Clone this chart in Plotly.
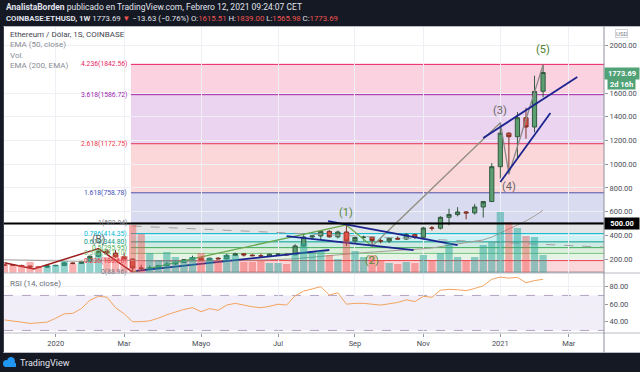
import plotly.graph_objects as go

W, H = 640, 372

# ---------------- data ----------------
weeks = ["2019-11-25", "2019-12-02", "2019-12-09", "2019-12-16", "2019-12-23", "2019-12-30",
         "2020-01-06", "2020-01-13", "2020-01-20", "2020-01-27", "2020-02-03", "2020-02-10",
         "2020-02-17", "2020-02-24", "2020-03-02", "2020-03-09", "2020-03-16", "2020-03-23",
         "2020-03-30", "2020-04-06", "2020-04-13", "2020-04-20", "2020-04-27", "2020-05-04",
         "2020-05-11", "2020-05-18", "2020-05-25", "2020-06-01", "2020-06-08", "2020-06-15",
         "2020-06-22", "2020-06-29", "2020-07-06", "2020-07-13", "2020-07-20", "2020-07-27",
         "2020-08-03", "2020-08-10", "2020-08-17", "2020-08-24", "2020-08-31", "2020-09-07",
         "2020-09-14", "2020-09-21", "2020-09-28", "2020-10-05", "2020-10-12", "2020-10-19",
         "2020-10-26", "2020-11-02", "2020-11-09", "2020-11-16", "2020-11-23", "2020-11-30",
         "2020-12-07", "2020-12-14", "2020-12-21", "2020-12-28", "2021-01-04", "2021-01-11",
         "2021-01-18", "2021-01-25", "2021-02-01", "2021-02-08"]
opens = [151, 151, 146, 141, 132, 131, 143, 146, 167, 162, 180, 223, 267, 250, 218, 200, 124, 122,
         125, 143, 158, 171, 197, 210, 187, 207, 201, 231, 244, 233, 228, 225, 241, 241, 235, 310,
         386, 395, 433, 387, 428, 352, 381, 385, 355, 352, 375, 368, 406, 383, 462, 460, 552, 575,
         597, 589, 639, 685, 979, 1262, 1232, 1392, 1314, 1615.51]
highs = [157, 152, 151, 145, 135, 145, 150, 175, 172, 185, 230, 288, 285, 275, 254, 202, 152, 146,
         150, 175, 187, 199, 228, 216, 211, 216, 244, 253, 250, 240, 245, 245, 249, 245, 325, 415,
         400, 445, 444, 440, 488, 383, 397, 391, 372, 378, 392, 420, 412, 472, 478, 560, 624, 637,
         605, 665, 660, 1010, 1350, 1270, 1440, 1476, 1747, 1839.00]
lows = [142, 143, 140, 116, 124, 126, 139, 142, 155, 158, 177, 215, 238, 213, 199, 90, 104, 122,
        125, 140, 149, 166, 187, 180, 180, 199, 197, 225, 221, 223, 219, 222, 237, 228, 235, 305,
        365, 369, 380, 373, 310, 330, 355, 308, 333, 335, 360, 360, 368, 375, 440, 450, 485, 560,
        535, 575, 550, 680, 880, 915, 1045, 1215, 1270, 1565.98]
closes = [148, 146, 141, 132, 131, 143, 146, 167, 162, 180, 223, 267, 250, 218, 200, 124, 122, 125,
          144, 158, 171, 195, 211, 187, 207, 201, 231, 244, 234, 228, 225, 241, 241, 235, 310, 386,
          395, 433, 387, 428, 352, 381, 385, 355, 352, 375, 368, 406, 383, 462, 460, 552, 575, 597,
          589, 639, 685, 979, 1262, 1232, 1392, 1314, 1614, 1773.69]
volumes_m = [0.9, 0.8, 0.8, 1.1, 0.7, 0.7, 0.8, 1.2, 0.9, 1.0, 1.5, 2.0, 1.6, 1.8, 1.7, 4.8, 3.9, 2.0,
             1.3, 2.1, 1.6, 1.3, 1.6, 2.0, 1.5, 1.3, 1.8, 1.8, 1.1, 1.1, 1.2, 1.0, 1.0, 0.9, 1.9, 3.0,
             2.0, 2.2, 1.8, 1.4, 4.0, 2.2, 1.6, 1.8, 1.2, 1.0, 0.9, 1.1, 1.0, 1.8, 1.3, 2.0, 3.0, 1.6,
             1.3, 1.6, 2.8, 3.1, 6.1, 5.1, 4.5, 3.7, 3.6, 1.8]
ema50 = [193, 191, 189, 187, 185, 183, 182, 181, 180.5, 180.5, 182, 185.5, 188, 189, 189.6, 187,
         184.5, 182, 180.7, 179.8, 179.5, 180, 181, 181.5, 182.5, 183, 185, 187, 189, 190.7, 192,
         194, 196, 197, 202, 209, 216, 225, 231, 239, 243, 249, 254, 258, 262, 266, 270, 275, 280,
         287, 293, 304, 314, 325, 336, 348, 361, 385, 419, 451, 488, 521, 563, 611]
rsi14 = [42, 41, 39.5, 38, 38.5, 39.5, 44, 49, 49.5, 55, 64.5, 69, 68, 56, 49, 40, 40, 41, 44, 48,
         51, 54, 56, 51.5, 55, 53, 59, 61, 59, 57, 56, 57.5, 60, 59, 69.5, 75, 77.5, 80, 70.5, 73,
         60, 61, 61, 60, 59, 60.5, 62, 65, 63, 69, 68, 76, 77, 76.5, 75.5, 78, 81, 88.5, 91, 89.8,
         90.7, 84.5, 87, 88.5]

fib_ratios = [0, 0.236, 0.382, 0.5, 0.618, 0.786, 1, 1.618, 2.618, 3.618, 4.236]
fib_prices = [88.96, 186.66, 247.10, 295.95, 344.80, 414.35, 502.94, 758.78, 1172.75, 1586.72, 1842.56]
fib_colors = ["#787b86", "#f23645", "#81c784", "#4caf50", "#089981", "#00bcd4", "#787b86",
              "#3f51b5", "#f23645", "#9c27b0", "#e91e63"]
fib_start = "2020-03-07 14:00"

wave_dates = ["2020-03-09", "2020-08-31", "2020-09-21", "2021-01-04", "2021-01-11", "2021-02-08"]
wave_prices = [90, 488, 308, 1350, 917, 1839]
wave_labels = ["", "(1)", "(2)", "(3)", "(4)", "(5)"]
abc_dates = ["2019-11-25", "2019-12-19", "2020-02-10", "2020-03-09"]
abc_prices = [168, 116, 288, 90]

trend_lines = [
    (["2020-12-21", "2021-03-08"], [1221, 1736]),
    (["2021-01-04", "2021-02-14"], [850, 1432]),
    (["2020-08-16", "2020-11-30"], [520, 318]),
    (["2020-07-13", "2020-10-25"], [394, 275]),
    (["2020-03-12", "2020-08-17"], [99, 276]),
]
dashed_dates = ["2020-03-09", "2021-03-29"]
dashed_prices = [478, 301]

price_ticks = [200, 400, 600, 800, 1000, 1200, 1400, 1600, 2000]
rsi_ticks = [40, 60, 80]
time_tick_dates = ["2020-01-06", "2020-03-02", "2020-05-04", "2020-07-06", "2020-09-07",
                   "2020-11-02", "2021-01-04", "2021-03-01"]
time_tick_text = ["2020", "Mar", "Mayo", "Jul", "Sep", "Nov", "2021", "Mar"]
last_price = 1773.69
hline_price = 500

# ---------------- helpers ----------------
def px(x):
    return x / W

def py(y):
    return 1 - y / H

FONT = "Roboto"
GREEN_UP = "#5b9e72"
RED_DN = "#d5533f"
GRID = "#eef0f5"
X_RANGE = ["2019-11-24 16:00", "2021-03-29 21:00"]
X_DOM = [px(4), px(604)]

def rgba(hexc, a):
    h = hexc.lstrip("#")
    return "rgba(%d,%d,%d,%.2f)" % (int(h[0:2], 16), int(h[2:4], 16), int(h[4:6], 16), a)

fig = go.Figure()

# volume
vol_colors = [rgba("#26a69a", 0.5) if c >= o else rgba("#ef5350", 0.45) for o, c in zip(opens, closes)]
fig.add_trace(go.Bar(x=weeks, y=volumes_m, yaxis="y2", marker=dict(color=vol_colors, line_width=0),
                     showlegend=False, hoverinfo="skip"))
# EMA 50
fig.add_trace(go.Scatter(x=weeks, y=ema50, mode="lines", line=dict(color="#a59e96", width=1),
                         showlegend=False, hoverinfo="skip"))
# dashed trend line
fig.add_trace(go.Scatter(x=dashed_dates, y=dashed_prices, mode="lines",
                         line=dict(color="#a0a0a0", width=1, dash="dash"), showlegend=False))
# candles
fig.add_trace(go.Candlestick(x=weeks, open=opens, high=highs, low=lows, close=closes,
                             increasing=dict(fillcolor=GREEN_UP, line=dict(color="#33593f", width=1)),
                             decreasing=dict(fillcolor=RED_DN, line=dict(color="#7e2f24", width=1)),
                             showlegend=False, hoverinfo="skip"))
# ABC correction (maroon)
fig.add_trace(go.Scatter(x=abc_dates, y=abc_prices, mode="lines", line=dict(color="#9b1c1c", width=1.5),
                         showlegend=False))
# impulse waves
wave_cols = ["#6aa84f", "#6aa84f", "#8f8d7c", "#8a8a8a", "#8a8a8a"]
for i in range(5):
    fig.add_trace(go.Scatter(x=wave_dates[i:i + 2], y=wave_prices[i:i + 2], mode="lines",
                             line=dict(color=wave_cols[i], width=1.3), showlegend=False))
# navy trend lines
for tx, ty in trend_lines:
    fig.add_trace(go.Scatter(x=tx, y=ty, mode="lines", line=dict(color="#1c2490", width=1.8),
                             showlegend=False))
# RSI
fig.add_trace(go.Scatter(x=weeks, y=rsi14, xaxis="x2", yaxis="y3", mode="lines",
                         line=dict(color="#f2a35e", width=1), showlegend=False))

shapes = []
# header / footer / frame
shapes.append(dict(type="rect", xref="paper", yref="paper", x0=0, x1=1, y0=py(26.5), y1=1,
                   fillcolor="#151924", line_width=0, layer="below"))
shapes.append(dict(type="rect", xref="paper", yref="paper", x0=0, x1=1, y0=0, y1=py(353),
                   fillcolor="#151924", line_width=0, layer="below"))
shapes.append(dict(type="rect", xref="paper", yref="paper", x0=0, x1=px(3), y0=0, y1=1,
                   fillcolor="#151924", line_width=0, layer="below"))
# fib bands and lines
for i in range(len(fib_ratios)):
    if i > 0:
        shapes.append(dict(type="rect", xref="x", yref="y", x0=fib_start, x1="2021-09-01",
                           y0=fib_prices[i - 1], y1=fib_prices[i],
                           fillcolor=rgba(fib_colors[i], 0.2), line_width=0, layer="below"))
    shapes.append(dict(type="line", xref="x", yref="y", x0=fib_start, x1="2021-09-01",
                       y0=fib_prices[i], y1=fib_prices[i],
                       line=dict(color=fib_colors[i], width=1), layer="below"))
# 500 line
shapes.append(dict(type="line", xref="paper", yref="y", x0=X_DOM[0], x1=X_DOM[1],
                   y0=hline_price, y1=hline_price, line=dict(color="#000000", width=2)))
# RSI band
shapes.append(dict(type="rect", xref="paper", yref="y3", x0=X_DOM[0], x1=X_DOM[1], y0=30, y1=70,
                   fillcolor="rgba(126,87,194,0.10)", line_width=0, layer="below"))
for lv in (30, 70):
    shapes.append(dict(type="line", xref="paper", yref="y3", x0=X_DOM[0], x1=X_DOM[1], y0=lv, y1=lv,
                       line=dict(color="rgba(150,130,170,0.7)", width=1, dash="dash"), layer="below"))
# separators
for yy in (26.5, 273, 333, 352.5):
    shapes.append(dict(type="line", xref="paper", yref="paper", x0=px(3.5), x1=1, y0=py(yy), y1=py(yy),
                       line=dict(color="#b8bbc4", width=1)))
shapes.append(dict(type="line", xref="paper", yref="paper", x0=px(604), x1=px(604), y0=py(352.5), y1=py(26.5),
                   line=dict(color="#8e919a", width=1)))
shapes.append(dict(type="line", xref="paper", yref="paper", x0=px(3.5), x1=px(3.5), y0=py(352.5), y1=py(26.5),
                   line=dict(color="#3a3e4a", width=1)))
# TradingView logo (cloud)
shapes.append(dict(type="circle", xref="paper", yref="paper", x0=px(3), x1=px(10), y0=py(367), y1=py(360),
                   fillcolor="#2196f3", line_width=0))
shapes.append(dict(type="circle", xref="paper", yref="paper", x0=px(7), x1=px(15), y0=py(366), y1=py(357),
                   fillcolor="#2196f3", line_width=0))
shapes.append(dict(type="rect", xref="paper", yref="paper", x0=px(5), x1=px(16), y0=py(367), y1=py(363),
                   fillcolor="#2196f3", line_width=0))

ann = []
RED_T = "#ef5350"
ann.append(dict(xref="paper", yref="paper", x=px(4), y=py(7.5), xanchor="left", yanchor="middle", showarrow=False,
                text="<b>AnalistaBorden</b> publicado en TradingView.com, Febrero 12, 2021 09:24:07 CET",
                font=dict(size=8.5, color="#e0e3eb")))
ann.append(dict(xref="paper", yref="paper", x=px(4), y=py(18.5), xanchor="left", yanchor="middle", showarrow=False,
                text=("<b>COINBASE:ETHUSD, 1W</b> 1773.69 <span style='color:%s'>▼</span> −13.63 (−0.76%%) "
                      "O:<span style='color:%s'>1615.51</span> H:<span style='color:%s'>1839.00</span> "
                      "L:<span style='color:%s'>1565.98</span> C:<span style='color:%s'>1773.69</span>")
                % (RED_T, RED_T, RED_T, RED_T, RED_T),
                font=dict(size=7.8, color="#e0e3eb")))
legend_lines = [("Ethereum / Dólar, 1S, COINBASE", "#434651"), ("EMA (50, close)", "#8a8d96"),
                ("Vol.", "#8a8d96"), ("EMA (200, EMA)", "#8a8d96")]
for i, (t, c) in enumerate(legend_lines):
    ann.append(dict(xref="paper", yref="paper", x=px(8), y=py(34.5 + 10.3 * i), xanchor="left", yanchor="middle",
                    showarrow=False, text=t, font=dict(size=8, color=c)))
ann.append(dict(xref="paper", yref="paper", x=px(8), y=py(283.5), xanchor="left", yanchor="middle",
                showarrow=False, text="RSI (14, close)", font=dict(size=8, color="#6a6d78")))
# fib labels
for r, p, c in zip(fib_ratios, fib_prices, fib_colors):
    ann.append(dict(xref="x", yref="y", x=fib_start, y=p, xanchor="right", yanchor="middle", xshift=-2,
                    showarrow=False, text="%g(%.2f)" % (r, p), font=dict(size=6.8, color=c)))
# wave labels
shifts = [0, 12, -14, 12, -12, 15]
lab_cols = ["", "#5b8a3a", "#5b8a3a", "#666666", "#666666", "#4e7d2c"]
for d, p, t, s, c in zip(wave_dates, wave_prices, wave_labels, shifts, lab_cols):
    if t:
        ann.append(dict(xref="x", yref="y", x=d, y=p, yshift=s, xanchor="center", yanchor="middle",
                        showarrow=False, text=t, font=dict(size=11, color=c)))
ann.append(dict(xref="x", yref="y", x=abc_dates[2], y=abc_prices[2], yshift=9, xanchor="center",
                yanchor="middle", showarrow=False, text="(B)", font=dict(size=10, color="#5c5c5c")))
# price axis boxes
ann.append(dict(xref="paper", yref="paper", x=px(621), y=py(33.5), xanchor="center", yanchor="middle",
                showarrow=False, text="USD", font=dict(size=6, color="#787b86"), bordercolor="#d1d4dc",
                borderwidth=1, borderpad=0, bgcolor="#ffffff"))
ann.append(dict(xref="paper", yref="y", x=px(621.5), y=last_price, yshift=-1, xanchor="center",
                yanchor="middle", showarrow=False,
                text="<b>%.2f</b>" % last_price, font=dict(size=7.5, color="#ffffff"),
                bgcolor="#52a277", width=32, height=9))
ann.append(dict(xref="paper", yref="paper", x=px(621), y=py(83.5), xanchor="center", yanchor="middle",
                showarrow=False, text="<b>2d 16h</b>",
                font=dict(size=7.5, color="#ffffff"), bgcolor="#52a277", width=25, height=8))
ann.append(dict(xref="paper", yref="y", x=px(621.5), y=hline_price, xanchor="center", yanchor="middle",
                showarrow=False, text="<b>%.2f</b>" % hline_price, font=dict(size=7.5, color="#ffffff"),
                bgcolor="#000000", width=32, height=9))
ann.append(dict(xref="paper", yref="paper", x=px(18), y=py(363), xanchor="left", yanchor="middle",
                showarrow=False, text="TradingView", font=dict(size=9, color="#e0e3eb")))

axis_font = dict(size=7.5, color="#4a4d57")
fig.update_layout(
    width=W, height=H, margin=dict(l=0, r=0, t=0, b=0),
    paper_bgcolor="#ffffff", plot_bgcolor="rgba(0,0,0,0)",
    font=dict(family=FONT), showlegend=False, bargap=0.15,
    xaxis=dict(domain=X_DOM, range=X_RANGE, anchor="y", type="date", tickvals=time_tick_dates,
               showticklabels=False, showgrid=True, gridcolor=GRID, zeroline=False,
               rangeslider=dict(visible=False), ticks=""),
    xaxis2=dict(domain=X_DOM, matches="x", anchor="y3", type="date", tickvals=time_tick_dates,
                ticktext=time_tick_text, showticklabels=True, showgrid=True, gridcolor=GRID,
                ticks="outside", ticklen=3, tickcolor="#9598a1", tickfont=axis_font, zeroline=False),
    yaxis=dict(domain=[py(273), py(27)], range=[81.9, 2157.8], side="right", anchor="x",
               tickvals=price_ticks, ticktext=["%.2f" % v for v in price_ticks],
               ticks="outside", ticklen=3, tickcolor="#9598a1", tickfont=axis_font,
               showgrid=True, gridcolor=GRID, zeroline=False),
    yaxis2=dict(overlaying="y", range=[0, 24.6], visible=False),
    yaxis3=dict(domain=[py(333), py(273)], range=[27.09, 95.66], side="right", anchor="x2",
                tickvals=rsi_ticks, ticktext=["%.2f" % v for v in rsi_ticks],
                ticks="outside", ticklen=3, tickcolor="#9598a1", tickfont=axis_font,
                showgrid=True, gridcolor=GRID, zeroline=False),
    shapes=shapes, annotations=ann,
)

fig.write_html("out.html")
